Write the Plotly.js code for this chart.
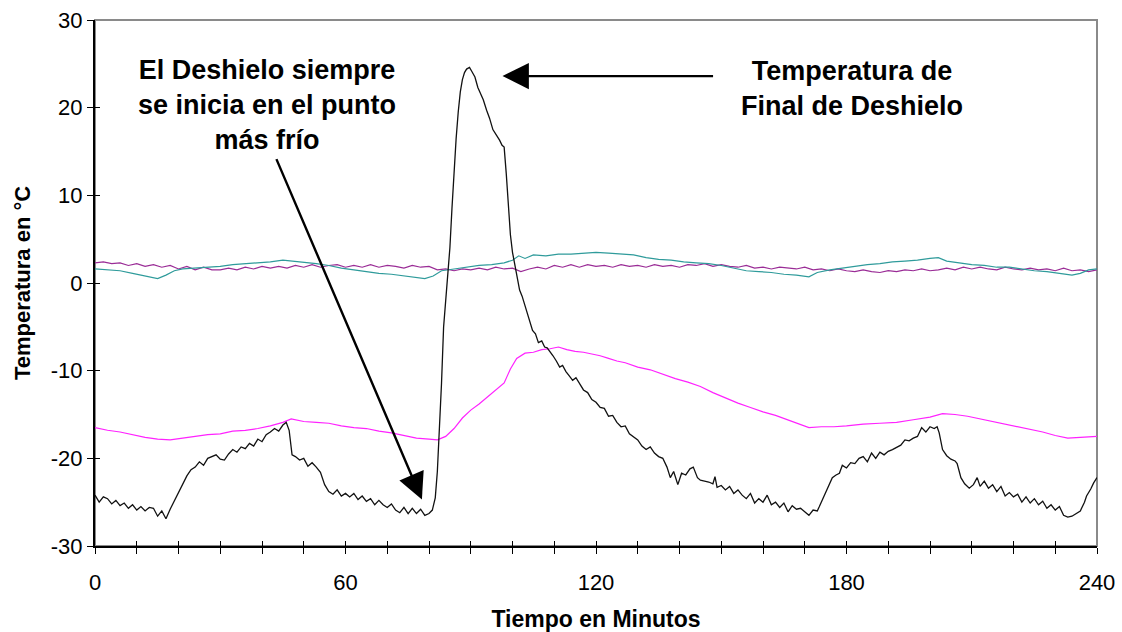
<!DOCTYPE html>
<html>
<head>
<meta charset="utf-8">
<script src="https://cdn.plot.ly/plotly-3.0.1.min.js"></script>
<style>html,body{margin:0;padding:0;background:#fff;}#chart{width:1122px;height:632px;}</style>
</head>
<body>
<div id="chart"></div>
<script>
// ---- Data ----
const blackMin = [0,1,2,3,4,5,6,7,8,9,10,11,12,13,14,15,16,17,18,19,20,21,22,23,24,25,26,27,28,29,30,31,32,33,34,35,36,37,38,39,40,41,42,43,44,45,45.8,46.5,47.2,48,49,50,51,52,53,54,55,56,57,58,59,60,61,62,63,64,65,66,67,68,69,70,71,72,73,74,75,76,77,78,79,80,80.8,81.5,82,82.5,83,83.5,84,84.5,85,85.5,86,86.5,87,87.5,88,88.5,89,89.7,90.3,91,91.7,92.3,93,93.8,94.5,95.3,96,96.9,97.5,98,98.5,99,99.5,100,100.5,101,101.7,102.3,103,103.6,104.2,104.8,105.5,106.2,107,107.7,108.3,109,109.7,110.5,111.3,112,112.8,113.6,114.4,115.2,116,117,118,119,120,121,122,123,124,125,126,127,128,129,130,131,132,133,134,135,136,137,137.8,138.6,139.6,140.5,141.5,142.5,143.3,144.3,145,146,147,148,148.5,149,150,151,152,153,154,155,156,157,158,159,160,161,162,163,164,165,166,167,168,169,170,171,172,173,173.5,174.3,175.2,176,176.6,177.5,178.3,179,180,181,182,183,184,185,186,187,188,189,190,191,192,193,194,195,196,197,198,199,200,201,201.7,202.2,203,204,205,206,206.5,207.4,208.3,209.4,210.4,211.3,212,213,214,215,216,217,218,219,220,221,222,223,224,225,226,227,228,229,230,231,232,233,234,235,236,237,237.5,238.5,239.2,240];
const blackTemp = [-24.2,-25.0,-24.4,-24.6,-25.2,-24.8,-25.4,-25.1,-25.7,-25.3,-25.9,-25.5,-26.0,-25.6,-25.7,-26.6,-26.0,-26.9,-25.8,-24.8,-24.0,-23.0,-22.0,-21.3,-21.0,-20.4,-20.8,-20.0,-19.8,-19.6,-20.1,-20.2,-19.5,-19.0,-19.3,-18.7,-18.9,-18.3,-18.6,-17.8,-18.1,-17.3,-17.0,-16.6,-16.9,-16.2,-15.9,-16.8,-19.6,-19.8,-20.2,-20.0,-20.9,-20.5,-21.0,-21.6,-23.0,-23.8,-24.1,-23.6,-24.3,-24.0,-24.4,-24.0,-24.7,-24.3,-24.9,-24.6,-25.3,-24.8,-25.3,-25.6,-25.2,-25.9,-26.2,-25.6,-26.3,-25.7,-26.3,-25.8,-26.5,-26.3,-25.9,-24.5,-21.5,-17.0,-11.4,-5.0,-2.0,0.0,4.0,8.5,13.0,16.5,19.5,21.8,23.2,24.0,24.4,24.6,24.1,23.5,22.3,21.7,20.9,19.7,18.8,17.5,17.0,16.3,15.7,15.5,12.5,8.5,5.5,3.5,2.2,0.7,-0.8,-1.5,-2.6,-3.5,-4.7,-5.4,-5.8,-6.8,-6.6,-7.3,-7.4,-7.8,-8.3,-8.9,-9.6,-9.4,-10.1,-10.6,-11.1,-10.8,-11.4,-12.2,-12.5,-13.3,-13.6,-14.2,-14.3,-15.2,-15.1,-15.9,-16.4,-16.3,-17.2,-17.6,-17.9,-18.6,-19.0,-18.7,-19.4,-19.8,-20.0,-21.0,-22.2,-21.5,-23.0,-21.7,-21.9,-21.2,-21.0,-22.2,-22.5,-22.6,-22.7,-22.9,-22.1,-23.3,-23.1,-23.6,-23.2,-24.0,-23.6,-24.2,-24.6,-24.0,-25.1,-24.6,-25.0,-24.2,-25.3,-25.0,-25.6,-25.1,-26.1,-25.4,-25.8,-25.7,-26.1,-26.5,-25.9,-26.0,-25.5,-24.6,-23.6,-22.9,-22.2,-21.9,-21.7,-20.8,-21.1,-20.5,-20.6,-20.0,-19.8,-20.4,-19.4,-20.0,-19.3,-19.6,-19.2,-19.0,-18.7,-18.5,-17.9,-18.0,-17.7,-17.5,-16.5,-17.0,-16.4,-16.6,-16.4,-17.1,-19.0,-19.7,-20.1,-20.3,-20.6,-22.2,-22.9,-23.4,-23.0,-22.2,-23.2,-22.6,-23.4,-23.0,-23.8,-23.2,-24.3,-23.9,-24.4,-24.1,-25.0,-24.4,-25.1,-24.6,-25.3,-24.9,-25.7,-25.3,-25.9,-25.5,-26.5,-26.7,-26.6,-26.3,-26.0,-25.0,-24.3,-23.5,-22.8,-22.2];

const magentaMin = [0,3,6,9,12,15,18,21,24,27,30,33,36,39,42,45,47,50,53,56,59,62,65,68,71,74,77,80,82,84,86,88,90,92,94,96,98,99.5,101,103,105,107,109,111,113,115,117,119,121,123,125,127,130,133,136,139,142,145,148,151,154,157,160,163,166,169,171,174,177,180,184,188,192,196,200,203,206,209,212,215,218,221,224,227,230,233,236,240];
const magentaTemp = [-16.5,-16.8,-17.0,-17.3,-17.6,-17.8,-17.9,-17.7,-17.5,-17.3,-17.2,-16.9,-16.8,-16.6,-16.3,-15.9,-15.5,-15.8,-15.9,-16.0,-16.3,-16.5,-16.6,-16.9,-17.1,-17.4,-17.7,-17.8,-17.9,-17.5,-16.6,-15.4,-14.5,-13.8,-13.0,-12.3,-11.4,-9.8,-8.6,-8.0,-7.9,-7.6,-7.5,-7.3,-7.6,-7.8,-7.9,-8.1,-8.3,-8.6,-8.9,-9.1,-9.6,-9.9,-10.4,-10.9,-11.3,-11.8,-12.5,-13.1,-13.7,-14.2,-14.7,-15.1,-15.6,-16.1,-16.5,-16.4,-16.4,-16.3,-16.1,-16.0,-15.9,-15.6,-15.3,-14.9,-15.0,-15.2,-15.5,-15.8,-16.1,-16.4,-16.7,-17.0,-17.4,-17.7,-17.6,-17.5];

const tealMin = [0,3,6,9,12,15,17,19,21,24,27,30,33,36,39,42,45,47,50,53,56,59,62,65,68,71,74,77,79,81,83,86,89,92,95,98,100,101.5,103,105,108,111,114,117,120,123,126,129,132,135,138,141,144,147,150,153,156,159,162,165,168,171,173,176,179,182,185,188,191,194,197,200,202,204,207,210,213,216,219,222,225,228,231,234,236,238,240];
const tealTemp = [1.6,1.5,1.4,1.1,0.8,0.5,0.9,1.4,1.6,1.7,1.8,1.9,2.1,2.2,2.3,2.4,2.6,2.5,2.4,2.2,2.0,1.7,1.5,1.3,1.1,1.0,0.8,0.6,0.5,0.8,1.4,1.6,1.8,2.0,2.1,2.3,2.6,3.1,2.8,3.2,3.1,3.3,3.3,3.4,3.5,3.4,3.3,3.2,2.9,2.7,2.6,2.4,2.3,2.2,2.0,1.7,1.4,1.3,1.2,1.0,0.9,0.7,1.2,1.5,1.7,1.9,2.1,2.2,2.4,2.5,2.6,2.8,2.9,2.5,2.3,2.1,2.0,1.8,1.8,1.6,1.4,1.3,1.1,0.9,1.1,1.5,1.6];

const purpleMin = [0,2,4,6,8,10,12,14,16,18,20,22,24,26,28,30,32,34,36,38,40,42,44,46,48,50,52,54,56,58,60,62,64,66,68,70,72,74,76,78,80,82,84,86,88,90,92,94,96,98,100,102,104,106,108,110,112,114,116,118,120,122,124,126,128,130,132,134,136,138,140,142,144,146,148,150,152,154,156,158,160,162,164,166,168,170,172,174,176,178,180,182,184,186,188,190,192,194,196,198,200,202,204,206,208,210,212,214,216,218,220,222,224,226,228,230,232,234,236,238,240];
const purpleTemp = [2.3,2.4,2.2,2.3,2.0,2.2,1.9,2.1,1.8,2.0,1.6,1.9,1.5,1.8,1.5,1.5,1.7,1.5,1.8,1.6,1.9,1.7,1.9,1.7,2.0,1.8,2.1,1.8,2.0,2.1,1.8,2.0,1.8,2.1,1.8,2.0,1.9,1.7,2.0,1.8,1.9,1.5,1.6,1.4,1.6,1.5,1.7,1.5,1.8,1.6,1.7,1.3,1.6,1.8,1.6,2.0,1.8,2.1,1.8,2.1,1.9,2.0,1.8,2.1,1.9,2.0,1.8,2.1,1.9,2.0,1.8,2.1,2.0,2.2,1.9,2.1,1.9,1.8,2.0,1.7,1.8,1.6,1.8,1.7,1.6,1.8,1.5,1.6,1.4,1.6,1.4,1.3,1.5,1.3,1.2,1.4,1.3,1.5,1.4,1.6,1.4,1.5,1.7,1.5,1.8,1.6,1.8,1.6,1.5,1.8,1.6,1.5,1.7,1.5,1.6,1.4,1.7,1.4,1.5,1.3,1.5];

const xTickVals = [0,60,120,180,240];
const yTickVals = [-30,-20,-10,0,10,20,30];
const yTickText = ['-30','-20','-10','0','10','20','30'];
const xTitle = 'Tiempo en Minutos';
const yTitle = 'Temperatura en °C';
const noteLeft = 'El Deshielo siempre<br>se inicia en el punto<br>más frío';
const noteRight = 'Temperatura de<br>Final de Deshielo';

// ---- Chart ----
const FONT = 'Arial, "Liberation Sans", sans-serif';
function line(x, y, color, w) {
  return {x: x, y: y, type: 'scatter', mode: 'lines', line: {color: color, width: w}, showlegend: false, hoverinfo: 'skip'};
}
const traces = [
  line(purpleMin, purpleTemp, '#9a2c96', 1.2),
  line(tealMin, tealTemp, '#2f9b9b', 1.2),
  line(magentaMin, magentaTemp, '#ff22ff', 1.2),
  line(blackMin, blackTemp, '#111111', 1.3),
  {x: [], y: [], xaxis: 'x2', yaxis: 'y2', type: 'scatter', showlegend: false}
];

const layout = {
  width: 1122, height: 632,
  margin: {l: 95, r: 25, t: 20, b: 86},
  paper_bgcolor: '#ffffff', plot_bgcolor: '#ffffff',
  font: {family: FONT, color: '#000'},
  showlegend: false,
  xaxis: {
    range: [0, 240], tickmode: 'array', tickvals: xTickVals,
    ticks: 'outside', ticklen: 6, tickwidth: 1, tickcolor: '#000',
    minor: {dtick: 10, ticks: 'outside', ticklen: 6, tickwidth: 1, tickcolor: '#000', showgrid: false},
    showline: true, linecolor: '#000', linewidth: 2,
    showgrid: false, zeroline: false,
    tickfont: {size: 22, family: FONT},
    ticklabelstandoff: 10,
    title: {text: xTitle, font: {size: 23, family: FONT, weight: 'bold'}, standoff: 16}
  },
  yaxis: {
    range: [-30, 30], tickmode: 'array', tickvals: yTickVals, ticktext: yTickText,
    ticks: 'outside', ticklen: 6, tickwidth: 1, tickcolor: '#000',
    showline: true, linecolor: '#000', linewidth: 2,
    showgrid: false, zeroline: false,
    tickfont: {size: 22, family: FONT},
    title: {text: yTitle, font: {size: 22, family: FONT, weight: 'bold'}, standoff: 14}
  },
  xaxis2: {
    overlaying: 'x', range: [0, 240], side: 'bottom', anchor: 'y2',
    tickmode: 'linear', tick0: 0, dtick: 10, ticks: 'inside', ticklen: 5, tickwidth: 1, tickcolor: '#000',
    showticklabels: false, showgrid: false, zeroline: false, showline: false
  },
  yaxis2: {
    overlaying: 'y', range: [-30, 30], side: 'left', anchor: 'x2',
    tickmode: 'array', tickvals: yTickVals, ticks: 'inside', ticklen: 5, tickwidth: 1, tickcolor: '#000',
    showticklabels: false, showgrid: false, zeroline: false, showline: false
  },
  shapes: [
    {type: 'rect', xref: 'paper', yref: 'paper', x0: 0, x1: 1, y0: 0, y1: 1,
     line: {color: '#8a8a8a', width: 2}, layer: 'below'}
  ],
  annotations: [
    {x: 41.2, y: 20.3, xref: 'x', yref: 'y', text: noteLeft, showarrow: false,
     xanchor: 'center', yanchor: 'middle', align: 'center',
     font: {size: 27, family: FONT, weight: 'bold', color: '#000'}},
    {x: 181.2, y: 22.2, xref: 'x', yref: 'y', text: noteRight, showarrow: false,
     xanchor: 'center', yanchor: 'middle', align: 'center',
     font: {size: 27, family: FONT, weight: 'bold', color: '#000'}},
    {x: 78.3, y: -24.7, xref: 'x', yref: 'y', ax: 43.3, ay: 14.3, axref: 'x', ayref: 'y',
     text: '', showarrow: true, arrowhead: 2, arrowsize: 2.2, arrowwidth: 2.4, arrowcolor: '#000', standoff: 0},
    {x: 97.6, y: 23.6, xref: 'x', yref: 'y', ax: 148.4, ay: 23.6, axref: 'x', ayref: 'y',
     text: '', showarrow: true, arrowhead: 2, arrowsize: 2.2, arrowwidth: 2.4, arrowcolor: '#000', standoff: 0}
  ]
};

Plotly.newPlot('chart', traces, layout, {displayModeBar: false, staticPlot: true});
</script>
</body>
</html>
